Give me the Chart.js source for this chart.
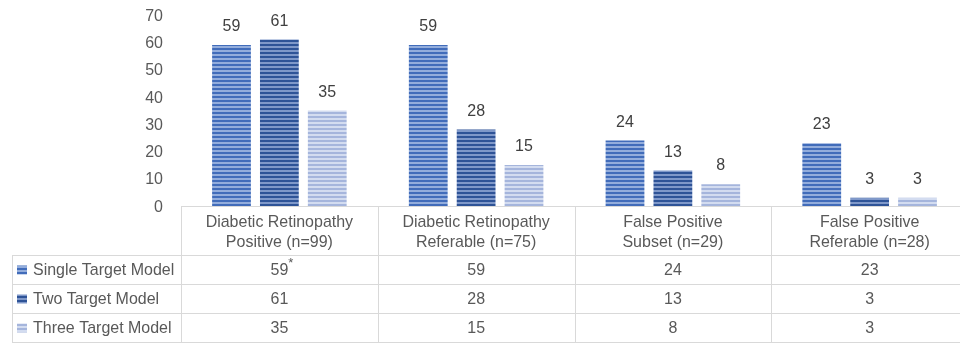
<!DOCTYPE html>
<html>
<head>
<meta charset="utf-8">
<script src="https://cdn.jsdelivr.net/npm/chart.js@4/dist/chart.umd.min.js"></script>
<style>
  html, body { margin: 0; padding: 0; background: #fff; }
  #wrap { width: 960px; height: 343px; overflow: hidden; position: relative; }
  canvas { display: block; }
</style>
</head>
<body>
<div id="wrap"><canvas id="chart" width="970" height="343"></canvas></div>
<script>
const categories = [
  ["Diabetic Retinopathy", "Positive (n=99)"],
  ["Diabetic Retinopathy", "Referable (n=75)"],
  ["False Positive", "Subset (n=29)"],
  ["False Positive", "Referable (n=28)"],
];
const seriesNames = ["Single Target Model", "Two Target Model", "Three Target Model"];
const singleTarget = [59, 59, 24, 23];
const twoTarget = [61, 28, 13, 3];
const threeTarget = [35, 15, 8, 3];
const yTicks = [0, 10, 20, 30, 40, 50, 60, 70];
const footnotes = [["*", "", "", ""], ["", "", "", ""], ["", "", "", ""]];

const FONT = "'Liberation Sans', Arial, sans-serif";
const TEXT = "#595959";
const LINE = "#d9d9d9";
const NARROW = 0.94;

function stripes(dark, light) {
  const c = document.createElement("canvas");
  c.width = 4;
  c.height = 4;
  const g = c.getContext("2d");
  g.fillStyle = light;
  g.fillRect(0, 0, 4, 4);
  g.fillStyle = dark;
  g.fillRect(0, 0, 4, 2);
  return document.getElementById("chart").getContext("2d").createPattern(c, "repeat");
}

const fills = [
  stripes("#416cba", "#93addc"),
  stripes("#2e5397", "#7f98c9"),
  stripes("#a5b5dc", "#d3dcf0"),
];

// narrow text, like the condensed face in the original
function text(ctx, str, x, y) {
  ctx.save();
  ctx.translate(x, y);
  ctx.scale(NARROW, 1);
  ctx.fillText(str, 0, 0);
  ctx.restore();
}

const valueLabels = {
  id: "valueLabels",
  afterDatasetsDraw(chart) {
    const ctx = chart.ctx;
    ctx.save();
    ctx.font = "17px " + FONT;
    ctx.fillStyle = "#404040";
    ctx.textAlign = "center";
    ctx.textBaseline = "bottom";
    chart.data.datasets.forEach((ds, i) => {
      chart.getDatasetMeta(i).data.forEach((bar, j) => {
        text(ctx, ds.data[j], bar.x, bar.y - 10);
      });
    });
    ctx.restore();
  },
};

const yLabels = {
  id: "yLabels",
  afterDraw(chart) {
    const ctx = chart.ctx;
    const y = chart.scales.y;
    ctx.save();
    ctx.font = "17px " + FONT;
    ctx.fillStyle = TEXT;
    ctx.textAlign = "right";
    ctx.textBaseline = "middle";
    yTicks.forEach((v) => text(ctx, v, 163, y.getPixelForValue(v) + 1));
    ctx.restore();
  },
};

const dataTable = {
  id: "dataTable",
  afterDraw(chart) {
    const ctx = chart.ctx;
    const x = chart.scales.x;
    const area = chart.chartArea;
    const half = (area.right - area.left) / categories.length / 2;
    const top = area.bottom;
    const headH = 49;
    const rowH = 29;
    const legendLeft = 12;
    const bottom = top + headH + rowH * seriesNames.length;

    ctx.save();
    ctx.strokeStyle = LINE;
    ctx.lineWidth = 1;
    ctx.beginPath();
    ctx.moveTo(area.left, top + 0.5);
    ctx.lineTo(chart.width, top + 0.5);
    for (let r = 0; r <= seriesNames.length; r++) {
      const y = Math.round(top + headH + rowH * r) + 0.5;
      ctx.moveTo(legendLeft, y);
      ctx.lineTo(chart.width, y);
    }
    ctx.moveTo(legendLeft + 0.5, top + headH);
    ctx.lineTo(legendLeft + 0.5, bottom);
    categories.forEach((c, i) => {
      const xl = Math.round(x.getPixelForValue(i) - half) + 0.5;
      ctx.moveTo(xl, top);
      ctx.lineTo(xl, bottom);
    });
    ctx.stroke();

    ctx.font = "17px " + FONT;
    ctx.fillStyle = TEXT;
    ctx.textBaseline = "middle";
    ctx.textAlign = "center";
    categories.forEach((lines, i) => {
      const cx = x.getPixelForValue(i);
      lines.forEach((t, k) => text(ctx, t, cx, top + 16 + k * 20));
    });

    chart.data.datasets.forEach((ds, r) => {
      const cy = top + headH + rowH * r + rowH / 2 + 1;
      ctx.fillStyle = ds.backgroundColor;
      ctx.fillRect(legendLeft + 5, cy - 5, 10, 9);
      ctx.fillStyle = TEXT;
      ctx.textAlign = "left";
      text(ctx, ds.label, legendLeft + 21, cy);
      ctx.textAlign = "center";
      ds.data.forEach((v, j) => {
        const cx = x.getPixelForValue(j);
        text(ctx, v, cx, cy);
        const note = footnotes[r][j];
        if (note) {
          const w = ctx.measureText(String(v)).width * NARROW;
          ctx.save();
          ctx.font = "13px " + FONT;
          ctx.textAlign = "left";
          ctx.fillText(note, cx + w / 2, cy - 7);
          ctx.restore();
        }
      });
    });
    ctx.restore();
  },
};

new Chart(document.getElementById("chart"), {
  type: "bar",
  data: {
    labels: categories,
    datasets: [
      { label: seriesNames[0], data: singleTarget, backgroundColor: fills[0] },
      { label: seriesNames[1], data: twoTarget, backgroundColor: fills[1] },
      { label: seriesNames[2], data: threeTarget, backgroundColor: fills[2] },
    ],
  },
  options: {
    responsive: false,
    animation: false,
    layout: { padding: { left: 0, right: 2, top: 15, bottom: 137 } },
    plugins: { legend: { display: false }, tooltip: { enabled: false } },
    datasets: { bar: { categoryPercentage: 0.73, barPercentage: 0.81 } },
    scales: {
      x: { display: false },
      y: {
        min: 0,
        max: 70,
        afterFit(scale) { scale.width = 181; },
        afterBuildTicks(scale) { scale.ticks = yTicks.map((v) => ({ value: v })); },
        grid: { display: false },
        border: { display: false },
        ticks: { display: false },
      },
    },
  },
  plugins: [valueLabels, yLabels, dataTable],
});
</script>
</body>
</html>
